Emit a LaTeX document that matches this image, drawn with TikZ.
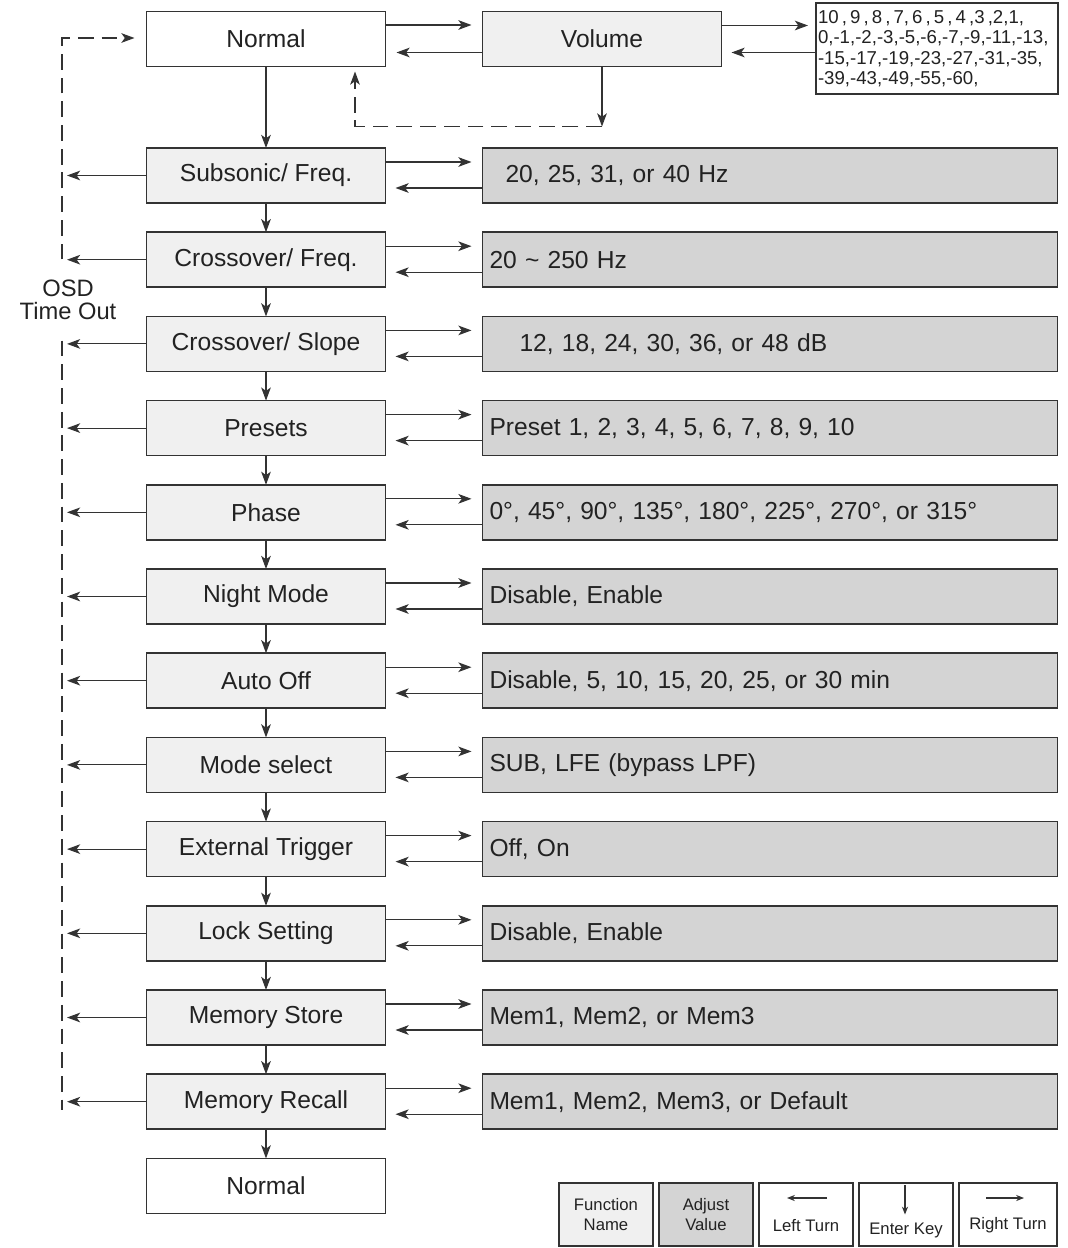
\documentclass[tikz,border=0pt]{standalone}
\usepackage{fontspec}
\setmainfont{Liberation Sans}
\usepackage{tikz}
\usetikzlibrary{arrows.meta}
\usetikzlibrary{positioning}

\definecolor{boxline}{HTML}{333333}
\definecolor{fnfill}{HTML}{F0F0F0}
\definecolor{valfill}{HTML}{D4D4D4}
\definecolor{txt}{HTML}{222222}

\begin{document}
\begin{tikzpicture}[
    font=\fontsize{14}{16}\selectfont, color=boxline, text=txt,
    >={Stealth[length=7.5pt,width=5.5pt,inset=2pt]},
    every path/.style={line width=0.65pt},
    fname/.style={draw=boxline, line width=0.85pt, fill=fnfill, outer sep=0pt,
        minimum width=4.78cm, minimum height=1.1cm},
    fend/.style={fname, fill=white},
    fval/.style={draw=boxline, line width=0.85pt, fill=valfill, outer sep=0pt,
        minimum height=1.1cm, text width=11.22cm, inner xsep=0.14cm, align=left},
    dsh/.style={dash pattern=on 9pt off 4.5pt},
    key/.style={draw=boxline, line width=0.85pt, outer sep=0pt, minimum width=1.88cm,
        minimum height=1.26cm, align=center, font=\fontsize{9.5}{11.4}\selectfont},
    node distance=0.584cm and 1.94cm]
    \useasboundingbox (0,0) rectangle (21.36,-24.96);

    % top row
    \node[fend] (normal) at (5.32,-0.78) {Normal};
    \node[fname, right=of normal] (volume) {Volume};
    \node[draw=boxline, line width=0.85pt, fill=white, outer sep=0pt, text width=4.76cm,
        inner xsep=0.04cm, minimum height=1.82cm, align=left,
        font=\fontsize{10.6}{11.6}\selectfont] (volvals) at (18.74,-0.97)
        {10\,,\,9\,,\,8\,,\,7,\,6\,,\,5\,,\,4\,,3\,,2,1,\\0,-1,-2,-3,-5,-6,-7,-9,-11,-13,\\-15,-17,-19,-23,-27,-31,-35,\\-39,-43,-49,-55,-60,};

    \coordinate (na) at ([yshift=0.28cm]normal.east);
    \coordinate (nb) at ([yshift=-0.27cm]volume.west);
    \draw[->, shorten >=0.22cm] (na) -- (na -| volume.west);
    \draw[->, shorten >=0.22cm] (nb) -- (nb -| normal.east);
    \coordinate (va) at ([yshift=0.27cm]volume.east);
    \coordinate (vb) at ([yshift=-0.27cm]volume.east);
    \draw[->, shorten >=0.16cm] (va) -- (va -| volvals.west);
    \draw[->, shorten >=0.2cm] (vb -| volvals.west) -- (vb);

    \coordinate (vloop) at ([yshift=-1.2cm]volume.south);
    \draw[->] (volume.south) -- (vloop);
    \draw[dsh, ->, shorten >=0.1cm] (vloop) -| ([xshift=1.78cm]normal.south);

    % function names
    \node[fname] (subsonic) at (5.32,-3.51) {Subsonic/ Freq.};
    \node[fname, below=of subsonic] (xfreq) {Crossover/ Freq.};
    \node[fname, below=of xfreq] (xslope) {Crossover/ Slope};
    \node[fname, below=of xslope] (presets) {Presets};
    \node[fname, below=of presets] (phase) {Phase};
    \node[fname, below=of phase] (night) {Night Mode};
    \node[fname, below=of night] (autooff) {Auto Off};
    \node[fname, below=of autooff] (mode) {Mode select};
    \node[fname, below=of mode] (trigger) {External Trigger};
    \node[fname, below=of trigger] (lock) {Lock Setting};
    \node[fname, below=of lock] (store) {Memory Store};
    \node[fname, below=of store] (recall) {Memory Recall};
    \node[fend, below=of recall] (normalend) {Normal};

    % adjust values
    \node[fval, right=of subsonic] (v-subsonic) {\hspace*{0.32cm}20, 25, 31, or 40 Hz};
    \node[fval, right=of xfreq] (v-xfreq) {20 \textasciitilde\ 250 Hz};
    \node[fval, right=of xslope] (v-xslope) {\hspace*{0.6cm}12, 18, 24, 30, 36, or 48 dB};
    \node[fval, right=of presets] (v-presets) {Preset 1, 2, 3, 4, 5, 6, 7, 8, 9, 10};
    \node[fval, right=of phase] (v-phase) {0°, 45°, 90°, 135°, 180°, 225°, 270°, or 315°};
    \node[fval, right=of night] (v-night) {Disable, Enable};
    \node[fval, right=of autooff] (v-autooff) {Disable, 5, 10, 15, 20, 25, or 30 min};
    \node[fval, right=of mode] (v-mode) {SUB, LFE (bypass LPF)};
    \node[fval, right=of trigger] (v-trigger) {Off, On};
    \node[fval, right=of lock] (v-lock) {Disable, Enable};
    \node[fval, right=of store] (v-store) {Mem1, Mem2, or Mem3};
    \node[fval, right=of recall] (v-recall) {Mem1, Mem2, Mem3, or Default};

    % OSD time out
    \node[align=center, minimum height=1.6cm, inner sep=0pt,
        font=\fontsize{13.5}{13}\selectfont] (osd) at (1.36,-6.0) {OSD\\Time Out};
    \coordinate (dtop) at (1.24,-0.76);
    \coordinate (dbot) at (1.24,-22.2);
    \draw[dsh, ->, shorten >=0.24cm] (osd.north -| dtop) -- (dtop) -- (dtop -| normal.west);
    \draw[dsh] (osd.south -| dtop) -- (dbot);

    \draw[->] (normal) -- (subsonic);
    \foreach \a/\b in {subsonic/xfreq, xfreq/xslope, xslope/presets, presets/phase,
        phase/night, night/autooff, autooff/mode, mode/trigger, trigger/lock,
        lock/store, store/recall, recall/normalend}
        \draw[->] (\a) -- (\b);

    \foreach \f in {subsonic, xfreq, xslope, presets, phase, night, autooff,
        mode, trigger, lock, store, recall} {
        \draw[->] ([yshift=0.27cm]\f.east) -- ([xshift=-0.22cm,yshift=0.27cm]v-\f.west);
        \draw[->] ([yshift=-0.25cm]v-\f.west) -- ([xshift=0.2cm,yshift=-0.25cm]\f.east);
        \draw[->] (\f.west) -- (\f.west -| 1.34,0);
    }

    % legend
    \node[key, fill=fnfill] (kfn) at (12.12,-24.29) {Function\\Name};
    \node[key, fill=valfill, right=0.12cm of kfn] (kadj) {Adjust\\Value};
    \node[key, right=0.12cm of kadj] (kleft) {\strut\\Left Turn};
    \node[key, right=0.12cm of kleft] (kenter) {\strut\\[5pt]Enter Key};
    \node[key, minimum width=1.96cm, right=0.12cm of kenter] (kright) {\strut\\Right Turn};

    \draw[-{Stealth[length=4.5pt,width=3.5pt]}] ([xshift=0.42cm,yshift=0.33cm]kleft.center)
        -- ([xshift=-0.38cm,yshift=0.33cm]kleft.center);
    \draw[-{Stealth[length=4.5pt,width=3.5pt]}] ([xshift=-0.02cm,yshift=-0.04cm]kenter.north)
        -- ([xshift=-0.02cm]kenter.center);
    \draw[-{Stealth[length=4.5pt,width=3.5pt]}] ([xshift=-0.44cm,yshift=0.33cm]kright.center)
        -- ([xshift=0.32cm,yshift=0.33cm]kright.center);
\end{tikzpicture}
\end{document}
